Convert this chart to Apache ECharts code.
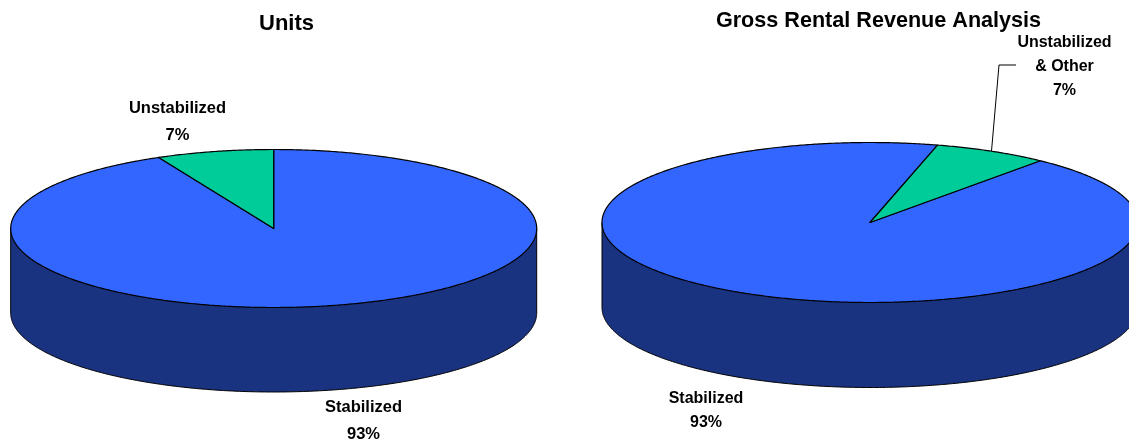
<!DOCTYPE html>
<html><head><meta charset="utf-8">
<style>html,body{margin:0;padding:0;background:#fff;overflow:hidden}#c{width:1129px;height:440px}</style>
<script src="https://cdn.jsdelivr.net/npm/echarts@6/dist/echarts.min.js"></script>
</head><body><div id="c"></div>
<script>
var chartTitles = ['Units', 'Gross Rental Revenue Analysis'];
var unitNames = ['Stabilized', 'Unstabilized'];
var unitValues = [92.8, 7.2];
var revenueNames = ['Unstabilized\n& Other', 'Stabilized'];
var revenueValues = [6.9, 93.1];
var COLORS = {Stabilized: '#3366FF', Unstabilized: '#00CC99', side: '#1A3380'};

var LAYOUTS = [
  {cx: 273.7, cy: 228.5, rx: 263, ry: 79, depth: 84.5, start: 0, lineHeight: 27, fontSize: 16.5,
   titleX: 286.5, titleY: 24, titleSize: 22,
   labels: [[363.5, 420.5], [177.5, 121.5]], leader: null},
  {cx: 870, cy: 222.5, rx: 268, ry: 80, depth: 85, start: 14.6, lineHeight: 24, fontSize: 16,
   titleX: 878.5, titleY: 21.5, titleSize: 21.6,
   labels: [[1064.5, 67], [706, 411]], leader: [[991.5, 151], [999, 65], [1016, 65]]}
];

function ell(L, deg, dy) {
  var a = deg * Math.PI / 180;
  return [L.cx + L.rx * Math.sin(a), L.cy - L.ry * Math.cos(a) + (dy || 0)];
}
function arc(L, a0, a1, dy) {
  var pts = [], n = Math.max(2, Math.ceil(Math.abs(a1 - a0) * 2));
  for (var i = 0; i <= n; i++) pts.push(ell(L, a0 + (a1 - a0) * i / n, dy));
  return pts;
}
function pieSeries(names, values, L) {
  var total = values.reduce(function (s, v) { return s + v; }, 0);
  return {
    type: 'custom',
    coordinateSystem: 'none',
    silent: true,
    animation: false,
    clip: false,
    data: values.map(function (v, i) { return {name: names[i], value: [v]}; }),
    renderItem: function (params, api) {
      var i = params.dataIndex, before = 0;
      for (var k = 0; k < i; k++) before += values[k];
      var a0 = L.start + before / total * 360;
      var a1 = a0 + api.value(0) / total * 360;
      var name = names[i];
      var key = name.indexOf('Unstabilized') === 0 ? 'Unstabilized' : 'Stabilized';
      var children = [];
      if (i === 0) {
        var side = arc(L, 90, 270, 0).slice(0, 1).concat(arc(L, 90, 270, L.depth)).concat(arc(L, 270, 270, 0).slice(0, 1));
        children.push({type: 'polygon', shape: {points: side},
          style: {fill: COLORS.side, stroke: '#000', lineWidth: 1}});
      }
      children.push({type: 'polygon', z2: key === 'Unstabilized' ? 5 : 4,
        shape: {points: [[L.cx, L.cy]].concat(arc(L, a0, a1, 0))},
        style: {fill: COLORS[key], stroke: '#000', lineWidth: 1.2, lineJoin: 'round'}});
      var pos = L.labels[i];
      children.push({type: 'text', z2: 10, x: pos[0], y: pos[1],
        style: {
          text: name + '\n' + Math.round(api.value(0) / total * 100) + '%',
          fontFamily: '"Liberation Sans", Arial, sans-serif', fontWeight: 'bold', fontSize: L.fontSize,
          lineHeight: L.lineHeight, fill: '#000', align: 'center', verticalAlign: 'middle'
        }});
      if (L.leader && key === 'Unstabilized') {
        children.push({type: 'polyline', z2: 6, shape: {points: L.leader},
          style: {fill: null, stroke: '#000', lineWidth: 1}});
      }
      return {type: 'group', children: children};
    }
  };
}
var chart = echarts.init(document.getElementById('c'), null, {renderer: 'canvas'});
chart.setOption({
  backgroundColor: '#fff',
  animation: false,
  title: chartTitles.map(function (t, i) {
    return {text: t, left: LAYOUTS[i].titleX, top: LAYOUTS[i].titleY - 13, textAlign: 'center', padding: 0,
      textStyle: {fontFamily: '"Liberation Sans", Arial, sans-serif', fontWeight: 'bold', fontSize: LAYOUTS[i].titleSize, color: '#000', lineHeight: 26}};
  }),
  series: [pieSeries(unitNames, unitValues, LAYOUTS[0]), pieSeries(revenueNames, revenueValues, LAYOUTS[1])]
});
</script></body></html>
